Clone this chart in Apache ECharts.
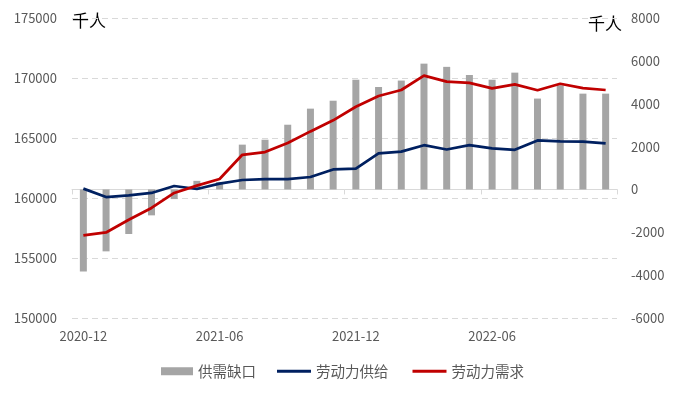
<!DOCTYPE html>
<html>
<head>
<meta charset="utf-8">
<script src="https://cdn.jsdelivr.net/npm/echarts@6/dist/echarts.min.js"></script>
<style>html,body{margin:0;padding:0;background:#fff}#c{width:678px;height:396px}</style>
</head>
<body>
<div id="c"></div>
<script>
const categories = ['2020-12','2021-01','2021-02','2021-03','2021-04','2021-05','2021-06','2021-07','2021-08','2021-09','2021-10','2021-11','2021-12','2022-01','2022-02','2022-03','2022-04','2022-05','2022-06','2022-07','2022-08','2022-09','2022-10','2022-11'];
const gap = [-3830,-2890,-2080,-1210,-450,400,350,2090,2320,3020,3770,4140,5120,4780,5080,5870,5720,5340,5120,5450,4240,4860,4470,4470];
const supply = [160780,160080,160220,160420,161000,160750,161200,161500,161580,161580,161750,162380,162450,163720,163870,164400,164040,164400,164140,164020,164800,164720,164700,164560];
const demand = [156880,157130,158190,159170,160420,161030,161580,163600,163830,164580,165550,166470,167600,168500,169000,170200,169700,169600,169130,169470,168980,169520,169160,169000];
const leftTicks = {min:150000, max:175000, interval:5000};
const rightTicks = {min:-6000, max:8000, interval:2000};
const unitLabel = '千人';
const names = ['供需缺口','劳动力供给','劳动力需求'];

const FONT = '"Noto Sans CJK SC", "Noto Sans", sans-serif';
const chart = echarts.init(document.getElementById('c'), null, {renderer:'canvas'});
const legendText = {color:'#595959', fontSize:14.5, fontFamily:FONT};
chart.setOption({
  animation:false,
  textStyle:{fontFamily:FONT},
  grid:{left:72, right:61, top:18, bottom:78, containLabel:false},
  legend:[
    {top:364, left:161, padding:0, itemWidth:32, itemHeight:8, itemGap:21, textStyle:legendText,
     data:[{name:names[0], icon:'rect'}]},
    {top:364, left:277, padding:0, itemWidth:34, itemHeight:3, itemGap:24, textStyle:legendText,
     data:[{name:names[1], icon:'rect'}, {name:names[2], icon:'rect'}]}
  ],
  graphic:[
    {type:'text', left:72, top:12, style:{text:unitLabel, fontSize:17, fill:'#000', fontFamily:FONT}},
    {type:'text', left:588, top:15, style:{text:unitLabel, fontSize:17, fill:'#000', fontFamily:FONT}}
  ],
  xAxis:{
    type:'category', data:categories, boundaryGap:true,
    axisLine:{lineStyle:{color:'#d9d9d9', width:1}},
    axisTick:{show:true, interval:5, length:5, lineStyle:{color:'#d9d9d9'}},
    axisLabel:{interval:5, color:'#595959', fontSize:13, margin:12, fontFamily:FONT},
    splitLine:{show:false}
  },
  yAxis:[
    {type:'value', min:leftTicks.min, max:leftTicks.max, interval:leftTicks.interval,
     axisLine:{show:false}, axisTick:{show:false},
     axisLabel:{color:'#595959', fontSize:13, margin:15, fontFamily:FONT, formatter:v=>String(v)},
     splitLine:{show:true, lineStyle:{color:'#d9d9d9', type:[6,4], width:1}}},
    {type:'value', min:rightTicks.min, max:rightTicks.max, interval:rightTicks.interval,
     axisLine:{show:false}, axisTick:{show:false},
     axisLabel:{color:'#595959', fontSize:13, margin:14, fontFamily:FONT, formatter:v=>String(v)},
     splitLine:{show:false}}
  ],
  series:[
    {name:names[0], type:'bar', yAxisIndex:1, data:gap, barWidth:7,
     itemStyle:{color:'#a5a5a5'}, z:1},
    {name:names[1], type:'line', yAxisIndex:0, data:supply, symbol:'none',
     lineStyle:{color:'#002060', width:2.75}, itemStyle:{color:'#002060'}, z:3},
    {name:names[2], type:'line', yAxisIndex:0, data:demand, symbol:'none',
     lineStyle:{color:'#c00000', width:2.75}, itemStyle:{color:'#c00000'}, z:4}
  ]
});
</script>
</body>
</html>
